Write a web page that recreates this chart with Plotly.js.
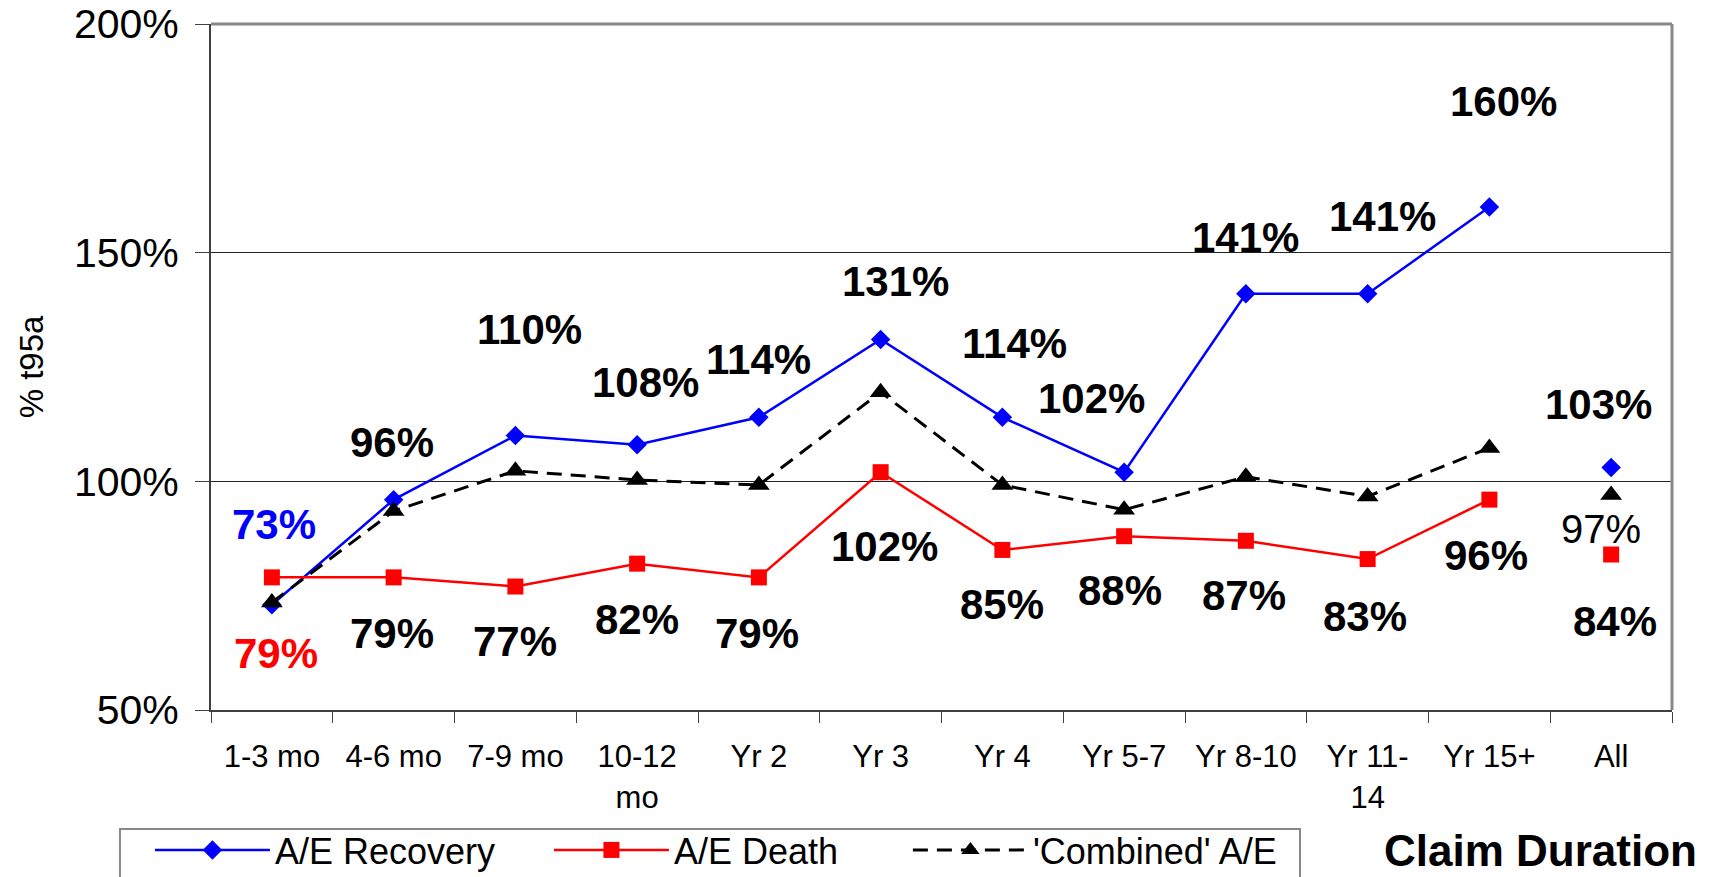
<!DOCTYPE html>
<html>
<head>
<meta charset="utf-8">
<script src="https://cdn.plot.ly/plotly-3.0.1.min.js"></script>
<style>
  html, body { margin: 0; padding: 0; background: #fff; }
  #chart { width: 1717px; height: 877px; }
</style>
</head>
<body>
<div id="chart"></div>
<script>
// Claim duration buckets and their axis labels
const categories = ['1-3 mo', '4-6 mo', '7-9 mo', '10-12 mo', 'Yr 2', 'Yr 3', 'Yr 4', 'Yr 5-7', 'Yr 8-10', 'Yr 11-14', 'Yr 15+', 'All'];
const tickLabels = ['1-3 mo', '4-6 mo', '7-9 mo', '10-12<br>mo', 'Yr 2', 'Yr 3', 'Yr 4', 'Yr 5-7', 'Yr 8-10', 'Yr 11-<br>14', 'Yr 15+', 'All'];
const yTicks = [50, 100, 150, 200];
const yTickLabels = ['50%', '100%', '150%', '200%'];

// Actual-to-expected ratios (% of t95a)
const recovery = [73, 96, 110, 108, 114, 131, 114, 102, 141, 141, 160, 103];
const death    = [79, 79, 77, 82, 79, 102, 85, 88, 87, 83, 96, 84];
const combined = [73.5, 93.5, 102.3, 100.3, 99.2, 119.5, 99.2, 93.8, 101, 96.7, 107.3, 97];

// Label placement, in pixels from each marker: [dx, dy], dy up
const recoveryLabelShift = [[2, 80], [-2, 57], [14, 106], [8, 62], [0, 58], [15, 58], [12, 74], [-33, 74], [0, 56], [15, 77], [14, 105], [-13, 63]];
const deathLabelShift    = [[4, -76], [-2, -56], [0, -55], [0, -56], [-2, -56], [4, -74], [0, -55], [-4, -54], [-2, -55], [-3, -57], [-3, -56], [4, -67]];
const combinedAllShift   = [-10, -34];

const FONT = 'Arial, "Liberation Sans", sans-serif';
const n = categories.length;
const lineCats = categories.slice(0, n - 1);
const allCat = categories[n - 1];

const series = [
  { name: 'A/E Recovery', legend: 'legend', values: recovery, color: '#0000FF', dash: 'solid', width: 2.5,
    marker: { symbol: 'diamond', size: 15, color: '#0000FF' } },
  { name: 'A/E Death', legend: 'legend2', values: death, color: '#FF0000', dash: 'solid', width: 2.5,
    marker: { symbol: 'square', size: 16, color: '#FF0000' } },
  { name: "'Combined' A/E", legend: 'legend3', values: combined, color: '#000000', dash: '15px,9px', width: 3,
    marker: { symbol: 'triangle-up', size: 19, color: '#000000' } }
];

const traces = [];
series.forEach(s => {
  // connected run through Yr 15+
  traces.push({
    type: 'scatter', mode: 'lines+markers', name: s.name, legend: s.legend,
    x: lineCats, y: s.values.slice(0, n - 1),
    line: { color: s.color, width: s.width, dash: s.dash },
    marker: s.marker, cliponaxis: false, hoverinfo: 'x+y'
  });
  // stand-alone "All" point
  traces.push({
    type: 'scatter', mode: 'markers', name: s.name, showlegend: false, legend: s.legend,
    x: [allCat], y: [s.values[n - 1]],
    marker: s.marker, cliponaxis: false, hoverinfo: 'x+y'
  });
});

const annotations = [];
function label(cat, val, shift, color, bold) {
  annotations.push({
    x: cat, y: val, xref: 'x', yref: 'y',
    text: Math.round(val) + '%', showarrow: false,
    xshift: shift[0], yshift: shift[1],
    xanchor: 'center', yanchor: 'middle',
    font: { family: FONT, size: bold ? 42 : 40, color: color, weight: bold ? 'bold' : 'normal' }
  });
}
categories.forEach((c, i) => {
  label(c, recovery[i], recoveryLabelShift[i], i === 0 ? '#0000FF' : '#000000', true);
  label(c, death[i], deathLabelShift[i], i === 0 ? '#FF0000' : '#000000', true);
});
label(allCat, combined[n - 1], combinedAllShift, '#000000', false);

// x-axis caption to the right of the legend
annotations.push({
  xref: 'paper', yref: 'paper', x: 0.91, y: -0.205,
  xanchor: 'center', yanchor: 'middle', showarrow: false,
  text: 'Claim Duration',
  font: { family: FONT, size: 44, color: '#000', weight: 'bold' }
});

// one legend per series so each entry sits at its own spot in the box
function legendAt(x) {
  return {
    orientation: 'h', x: x, xanchor: 'left', y: -0.1604, yanchor: 'top',
    borderwidth: 0, bgcolor: 'rgba(0,0,0,0)', itemwidth: 115,
    font: { family: FONT, size: 36, color: '#000' }
  };
}

const layout = {
  width: 1717, height: 877,
  margin: { l: 211, r: 45, t: 24, b: 167, pad: 0, autoexpand: false },
  paper_bgcolor: '#fff', plot_bgcolor: '#fff',
  showlegend: true,
  font: { family: FONT, color: '#000' },
  xaxis: {
    type: 'category', categoryorder: 'array', categoryarray: categories,
    tickvals: categories, ticktext: tickLabels,
    range: [-0.5, n - 0.5],
    showline: true, linecolor: '#404040', linewidth: 2,
    ticks: 'outside', tickson: 'boundaries', ticklen: 11, tickcolor: '#404040', tickwidth: 1,
    ticklabelstandoff: 18,
    showgrid: false, zeroline: false, automargin: false,
    tickfont: { family: FONT, size: 31, color: '#000' }
  },
  yaxis: {
    range: [50, 200], tickvals: yTicks, ticktext: yTickLabels,
    showline: true, linecolor: '#404040', linewidth: 2,
    ticks: 'outside', ticklen: 14, tickcolor: '#404040', tickwidth: 1,
    ticklabelstandoff: 8,
    showgrid: true, gridcolor: '#222', gridwidth: 1, zeroline: false, automargin: false,
    tickfont: { family: FONT, size: 41, color: '#000' },
    title: { text: '% t95a', standoff: 20, font: { family: FONT, size: 33, color: '#000' } }
  },
  legend: legendAt(-0.0418),
  legend2: legendAt(0.2313),
  legend3: legendAt(0.477),
  shapes: [
    // top and right frame of the plot area
    { type: 'line', xref: 'paper', yref: 'paper', x0: 0, x1: 1, y0: 1, y1: 1, line: { color: '#888', width: 3 } },
    { type: 'line', xref: 'paper', yref: 'paper', x0: 1, x1: 1, y0: 0, y1: 1, line: { color: '#888', width: 3 } },
    // legend box
    { type: 'rect', xref: 'paper', yref: 'paper', x0: -0.0623, x1: 0.7454, y0: -0.1735, y1: -0.30,
      line: { color: '#888', width: 2 }, fillcolor: 'rgba(0,0,0,0)', layer: 'below' }
  ],
  annotations: annotations
};

Plotly.newPlot('chart', traces, layout, { displayModeBar: false, staticPlot: true });
</script>
</body>
</html>
